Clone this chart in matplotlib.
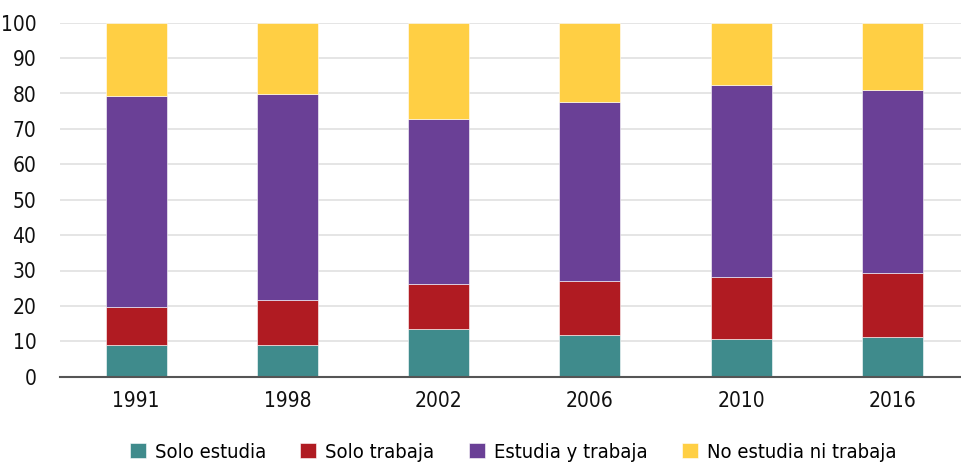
import matplotlib
matplotlib.use("Agg")
import matplotlib.pyplot as plt
import numpy as np
from matplotlib.font_manager import FontProperties

years = ["1991", "1998", "2002", "2006", "2010", "2016"]
solo_estudia = [9.0, 9.0, 13.4, 11.8, 10.6, 11.1]
solo_trabaja = [10.6, 12.8, 12.7, 15.3, 17.6, 18.1]
estudia_y_trabaja = [59.6, 58.0, 46.8, 50.6, 54.2, 51.7]
no_estudia_ni_trabaja = [20.8, 20.2, 27.1, 22.3, 17.6, 19.1]

series = [
    ("Solo estudia", solo_estudia, "#3F8B8C"),
    ("Solo trabaja", solo_trabaja, "#B01B22"),
    ("Estudia y trabaja", estudia_y_trabaja, "#6A4096"),
    ("No estudia ni trabaja", no_estudia_ni_trabaja, "#FFCF44"),
]

plt.rcParams["font.family"] = ["DejaVu Sans"]
plt.rcParams["font.stretch"] = "condensed"
tick_font = FontProperties(family="DejaVu Sans", stretch="condensed", size=15)
legend_font = FontProperties(family="DejaVu Sans", stretch="condensed", size=14.5)

fig = plt.figure(figsize=(9.62, 4.65), dpi=100)
ax = fig.add_axes([60 / 962, 1 - 376.7 / 465, 1 - 60 / 962, (376.7 - 22.7) / 465])

x = np.arange(len(years))
bottom = np.zeros(len(years))
for label, vals, color in series:
    vals = np.array(vals)
    ax.bar(x, vals, width=0.403, bottom=bottom, color=color, label=label,
           edgecolor="white", linewidth=0.4, zorder=3)
    bottom += vals

ax.set_xlim(-0.503, 5.46)
ax.set_ylim(0, 100)
ax.set_yticks(np.arange(0, 101, 10))
ax.set_xticks(x)
ax.set_xticklabels(years)
ax.grid(axis="y", color="#e0e0e0", linewidth=1.2, zorder=0)
ax.set_axisbelow(True)
for s in ["top", "right", "left"]:
    ax.spines[s].set_visible(False)
ax.spines["bottom"].set_color("#555555")
ax.spines["bottom"].set_linewidth(1.5)
ax.spines["bottom"].set_zorder(4)
ax.tick_params(axis="both", length=0, colors="#111111")
ax.tick_params(axis="y", pad=17)
ax.tick_params(axis="x", pad=10)
for t in ax.get_yticklabels() + ax.get_xticklabels():
    t.set_fontproperties(tick_font)

fig.legend(loc="center", bbox_to_anchor=(513 / 962, 1 - 452 / 465), ncol=4,
           frameon=False, prop=legend_font, handlelength=0.8, handleheight=0.8,
           handletextpad=0.45, columnspacing=1.7)

fig.savefig("out.png", dpi=100)
